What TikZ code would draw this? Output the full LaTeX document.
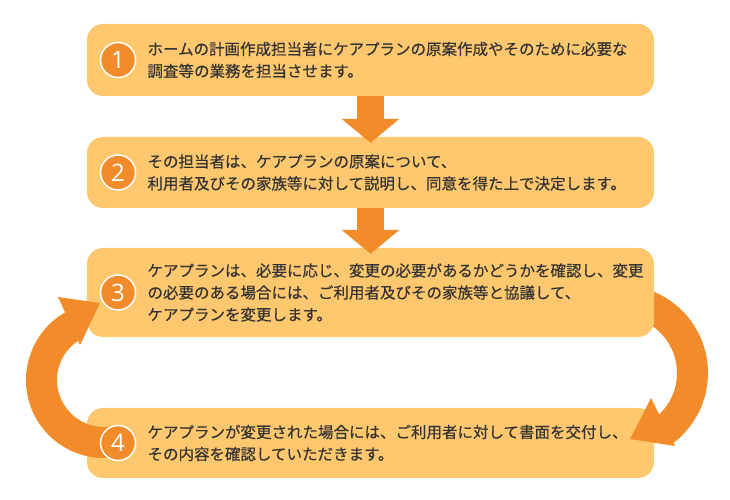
\documentclass[tikz,border=0pt]{standalone}
\usepackage{fontspec}
\setmainfont[FakeBold=0.4]{Noto Sans CJK JP}
\newfontfamily\numfont{Open Sans}
\usepackage{tikz}
\usetikzlibrary{positioning,calc,arrows.meta}
\definecolor{boxfill}{HTML}{FFC86E}
\definecolor{arrowcol}{HTML}{F28C2A}
\definecolor{textcol}{HTML}{333333}

\begin{document}
\begin{tikzpicture}[x=1pt, y=1pt,
  box/.style = {fill=boxfill, rounded corners=16pt, minimum width=567pt, inner sep=0pt},
  numcirc/.style = {circle, fill=arrowcol, draw=white, line width=1.5pt, minimum size=35pt, inner sep=0pt, text=white, font=\numfont\fontsize{24}{24}\selectfont},
  txt/.style = {align=left, inner sep=0pt, text=textcol, font=\fontsize{15.5}{22}\selectfont},
  downarrow/.style = {draw=arrowcol, line width=27pt, -{Triangle[length=24pt, width=58pt, line width=0pt]}}]
  \useasboundingbox (0,0) rectangle (730,500);
  \node[box, minimum height=72pt] (box1) at (370.5,440) {};
  \node[box, minimum height=71pt] (box2) at (370.5,327.5) {};
  \node[box, minimum height=70pt] (box4) at (370.5,57) {};
  % right loop arrow, 3 -> 4 (starts under box 3)
  \coordinate (rc) at (620,127);
  \fill[arrowcol] ($(rc)+(90:88)$) arc[start angle=90, end angle=-52.6, radius=88]
    -- (675,54) -- (630,61) -- (651,102)
    -- ($(rc)+(-46.6:57)$) arc[start angle=-46.6, end angle=90, radius=57] -- cycle;
  \node[box, minimum height=89pt] (box3) at (370.5,207.5) {};
  % left loop arrow, 4 -> 3
  \coordinate (lc) at (104,120);
  \fill[arrowcol] ($(lc)+(280:78)$) arc[start angle=280, end angle=119.9, radius=78]
    -- (58,203) -- (100,197) -- (80,155)
    -- ($(lc)+(123.5:47)$) arc[start angle=123.5, end angle=280, radius=47] -- cycle;
  \foreach \i in {1,...,4}{
    \node[numcirc, right=13pt of box\i.west] (num\i) {\i};
  }
  \node[txt, right=11pt of num1] (txt1) {ホームの計画作成担当者にケアプランの原案作成やそのために必要な\\調査等の業務を担当させます。};
  \node[txt, right=11pt of num2] (txt2) {その担当者は、ケアプランの原案について、\\利用者及びその家族等に対して説明し、同意を得た上で決定します。};
  \node[txt, right=11pt of num3] (txt3) {ケアプランは、必要に応じ、変更の必要があるかどうかを確認し、変更\\の必要のある場合には、ご利用者及びその家族等と協議して、\\ケアプランを変更します。};
  \node[txt, right=11pt of num4] (txt4) {ケアプランが変更された場合には、ご利用者に対して書面を交付し、\\その内容を確認していただきます。};
  \foreach \a/\b in {1/2,2/3}{
    \draw[downarrow] (box\a.south) -- ([yshift=-6pt]box\b.north);
  }
\end{tikzpicture}
\end{document}
